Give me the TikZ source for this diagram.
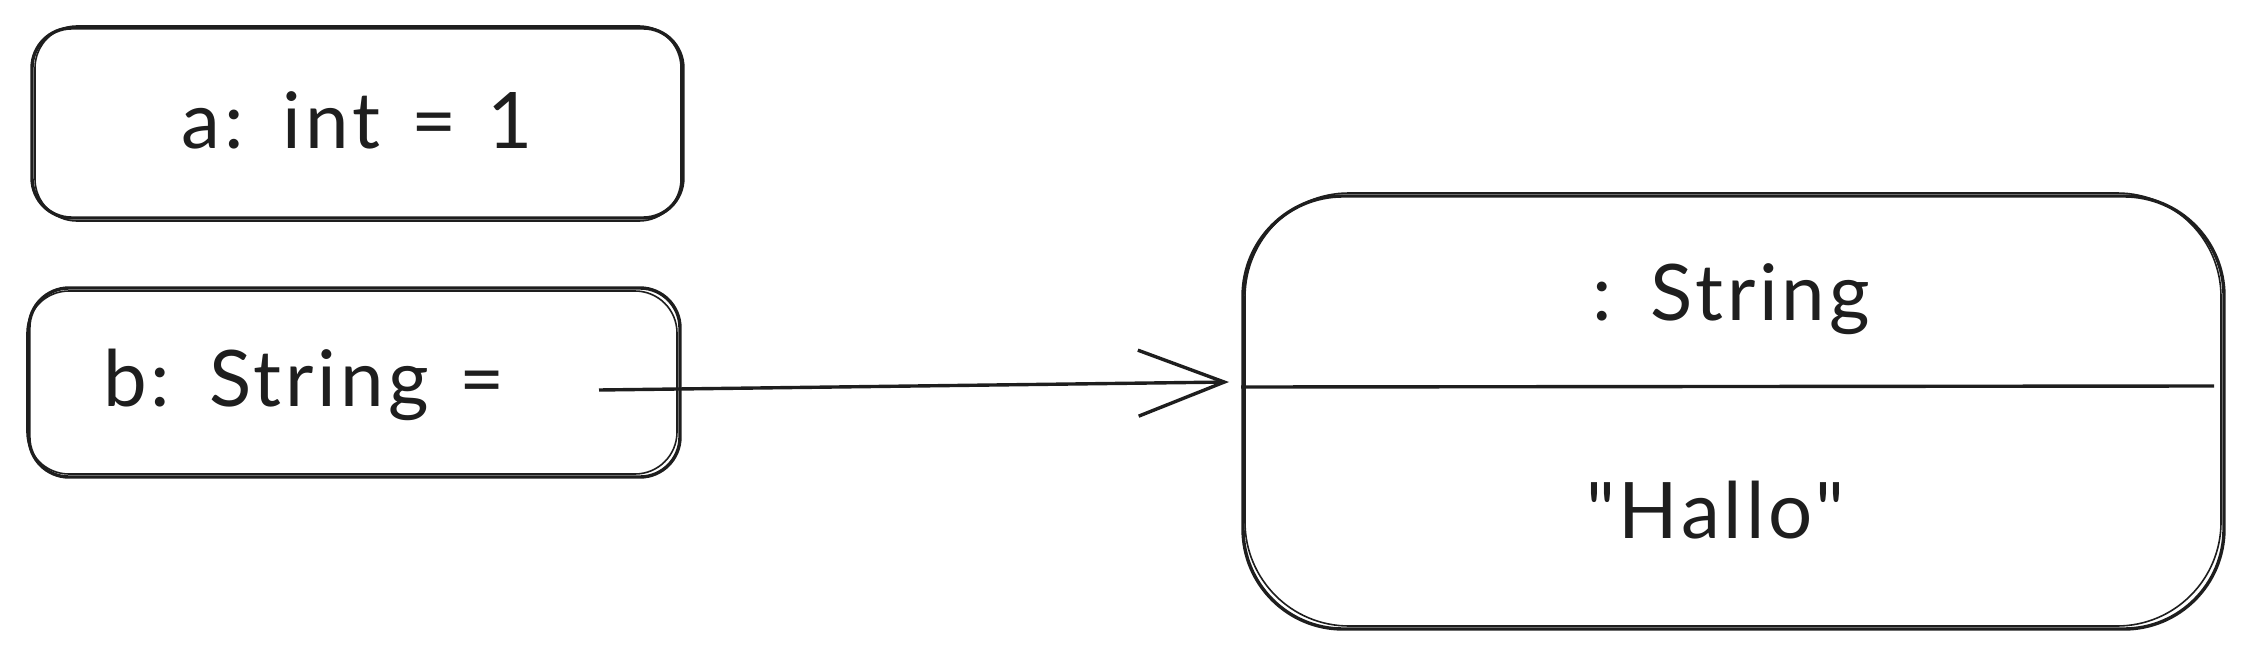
\documentclass[tikz,border=0pt]{standalone}
\usepackage{fontspec}
\newfontfamily\lbfont{Lato}[LetterSpace=5,WordSpace=1.3]
\usetikzlibrary{arrows.meta}
\definecolor{ink}{HTML}{1E1E1E}
\tikzset{
  box/.style={draw=ink, line width=3.4pt, rounded corners=#1},
  box/.default=40pt,
  sketch/.style={draw=ink, line width=1.6pt, rounded corners=#1},
  sketch/.default=42pt,
  lbl/.style={text=ink, font=\lbfont\fontsize{78}{86}\selectfont, inner sep=0pt, anchor=base},
  conn/.style={draw=ink, line width=3.4pt, -{Straight Barb[length=86pt,width=66pt,line width=3.4pt]}}
}
\begin{document}
\begin{tikzpicture}[x=1pt,y=-1pt]
\useasboundingbox (0,0) rectangle (2253,658);
% box a
\draw[box] (32,28) rectangle (683,218);
\draw[sketch] (35,26) rectangle (681,221);
\node[lbl] (ta) at (357,148) {a: int = 1};
% box b
\draw[box] (29,288) rectangle (680,477);
\draw[sketch] (27,291) rectangle (677,474);
\node[lbl] (tb) at (304,406) {b: String =};
% big box
\draw[box=100pt] (1243,196) rectangle (2224,629);
\draw[sketch=104pt] (1245,193) rectangle (2221,626);
\coordinate (dl) at (1241,387);
\coordinate (dr) at (2214,386);
\draw[draw=ink, line width=3.4pt] (dl) -- (dr);
\node[lbl] (ts) at (1731,320) {: String};
\node[lbl] (th) at (1715,538) {"Hallo"};
% connector
\coordinate (cs) at (599,390);
\coordinate (ce) at (1229,382);
\draw[conn] (cs) -- (ce);
\end{tikzpicture}
\end{document}
